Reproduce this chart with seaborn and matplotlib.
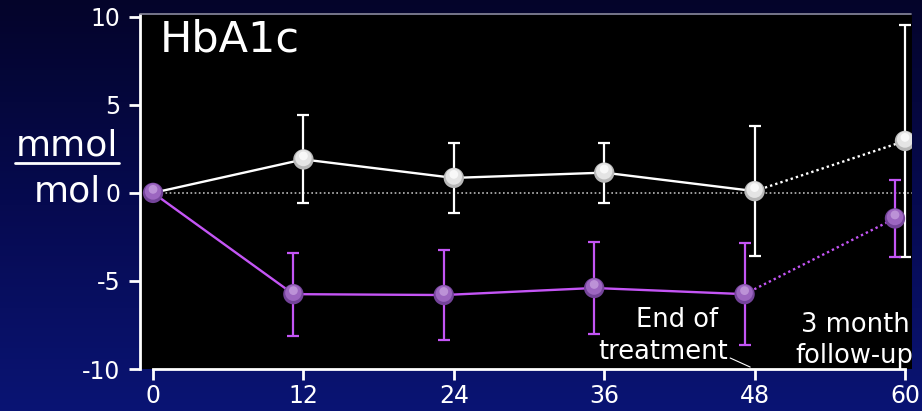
import numpy as np
import pandas as pd
import matplotlib
matplotlib.use("Agg")
import matplotlib.pyplot as plt
import seaborn as sns
from matplotlib.colors import LinearSegmentedColormap

# Change in HbA1c (mmol/mol) over months
months = [0, 12, 24, 36, 48, 60]
control_mean = [0.0, 1.9, 0.85, 1.15, 0.1, 2.95]
control_err = [0.0, 2.5, 2.0, 1.7, 3.7, 6.6]
treated_mean = [0.0, -5.75, -5.8, -5.4, -5.75, -1.45]
treated_err = [0.0, 2.35, 2.55, 2.6, 2.9, 2.2]
xtick_labels = ["0", "12", "24", "36", "48", "60"]
ytick_values = [-10, -5, 0, 5, 10]

sns.set_theme(style="white")
plt.rcParams["font.family"] = ["DejaVu Sans"]

W, H, DPI = 922, 411, 100
fig = plt.figure(figsize=(W / DPI, H / DPI), dpi=DPI)

# dark blue gradient backdrop
bg = fig.add_axes([0, 0, 1, 1], zorder=-10)
grad = np.linspace(0, 1, 256).reshape(-1, 1)
cmap_bg = LinearSegmentedColormap.from_list("bg", ["#04042a", "#060a50", "#0a1474"])
bg.imshow(grad, aspect="auto", cmap=cmap_bg, extent=[0, 1, 0, 1], origin="upper")
bg.set_axis_off()

ax = fig.add_axes([140 / W, (H - 369) / H, (912 - 140) / W, (369 - 15) / H])
ax.set_facecolor("black")

PURPLE_LINE = "#c455f5"
WHITE = "#ffffff"
dodge = -0.8

df_c = pd.DataFrame({"month": months, "val": control_mean})
df_t = pd.DataFrame({"month": np.array(months) + np.r_[0, [dodge] * 5], "val": treated_mean})

# reference line at zero
ax.axhline(0, color="#bbbbbb", lw=1.2, ls=(0, (1, 1.5)), xmin=13 / 772, zorder=1)

# solid lines through end of treatment, dotted to follow-up
sns.lineplot(data=df_c.iloc[:5], x="month", y="val", color=WHITE, lw=1.7, ax=ax, zorder=3)
sns.lineplot(data=df_c.iloc[4:], x="month", y="val", color=WHITE, lw=1.7, ls=(0, (1, 1.3)), ax=ax, zorder=3)
sns.lineplot(data=df_t.iloc[:5], x="month", y="val", color=PURPLE_LINE, lw=1.7, ax=ax, zorder=3)
sns.lineplot(data=df_t.iloc[4:], x="month", y="val", color=PURPLE_LINE, lw=1.7, ls=(0, (1, 1.3)), ax=ax, zorder=3)

# error bars
ax.errorbar(df_c["month"][1:], df_c["val"][1:], yerr=control_err[1:], fmt="none",
            ecolor=WHITE, elinewidth=1.6, capsize=4, capthick=1.6, zorder=2)
ax.errorbar(df_t["month"][1:], df_t["val"][1:], yerr=treated_err[1:], fmt="none",
            ecolor=PURPLE_LINE, elinewidth=1.6, capsize=4, capthick=1.6, zorder=2)

# shaded ball markers
for df, base, mid, hi in [(df_c.iloc[1:], "#b8b8b8", "#e4e4e4", "#ffffff"),
                          (df_t, "#74449a", "#9c66c0", "#c8a2e0")]:
    sns.scatterplot(data=df, x="month", y="val", s=215, color=base, edgecolor="none", ax=ax, zorder=5)
    sns.scatterplot(data=df.assign(val=df["val"] + 0.08), x="month", y="val", s=140, color=mid,
                    edgecolor="none", ax=ax, zorder=6)
    sns.scatterplot(data=df.assign(val=df["val"] + 0.2), x="month", y="val", s=40,
                    color=hi, edgecolor="none", alpha=0.75, ax=ax, zorder=7)

ax.set_xlim(-1.04, 60.56)
ax.set_ylim(-10.0, 10.1)
ax.set_xticks(months)
ax.set_xticklabels(xtick_labels)
ax.set_yticks(ytick_values)
ax.set_yticklabels([str(v) for v in ytick_values])
ax.set_xlabel("")
ax.set_ylabel("")

for side in ["top", "right"]:
    ax.spines[side].set_visible(False)
ax.spines["left"].set_color(WHITE)
ax.spines["left"].set_linewidth(2)
ax.spines["bottom"].set_color(WHITE)
ax.spines["bottom"].set_linewidth(2)
ax.spines["bottom"].set_bounds(0, 60)

ax.tick_params(axis="both", colors=WHITE, labelcolor=WHITE, labelsize=17,
               length=8, width=2, direction="out")
ax.tick_params(axis="x", bottom=True, pad=3)
ax.tick_params(axis="y", left=True, pad=6)

# thin top border of the panel
fig.add_artist(plt.Line2D([140 / W, 911 / W], [(H - 14) / H, (H - 14) / H],
                          color="#8a8a9a", lw=1.2))

# text annotations
ax.text(0.5, 9.9, "HbA1c", color=WHITE, fontsize=31, ha="left", va="top")
ax.text(45.1, -7.2, "End of", color=WHITE, fontsize=18.5, ha="right", va="center")
ax.text(45.9, -9.03, "treatment", color=WHITE, fontsize=18.5, ha="right", va="center")
ax.plot([46.05, 47.65], [-9.375, -9.89], color=WHITE, lw=0.8)
ax.text(60.4, -7.5, "3 month", color=WHITE, fontsize=18.5, ha="right", va="center")
ax.text(60.65, -9.26, "follow-up", color=WHITE, fontsize=18.5, ha="right", va="center")

# unit label
fig.text(67 / W, (H - 145) / H, "mmol", color=WHITE, fontsize=26, ha="center", va="center")
fig.add_artist(plt.Line2D([15 / W, 119 / W], [(H - 163) / H, (H - 163) / H], color=WHITE, lw=2))
fig.text(101 / W, (H - 191) / H, "mol", color=WHITE, fontsize=26, ha="right", va="center")

fig.savefig("out.png", dpi=DPI)
